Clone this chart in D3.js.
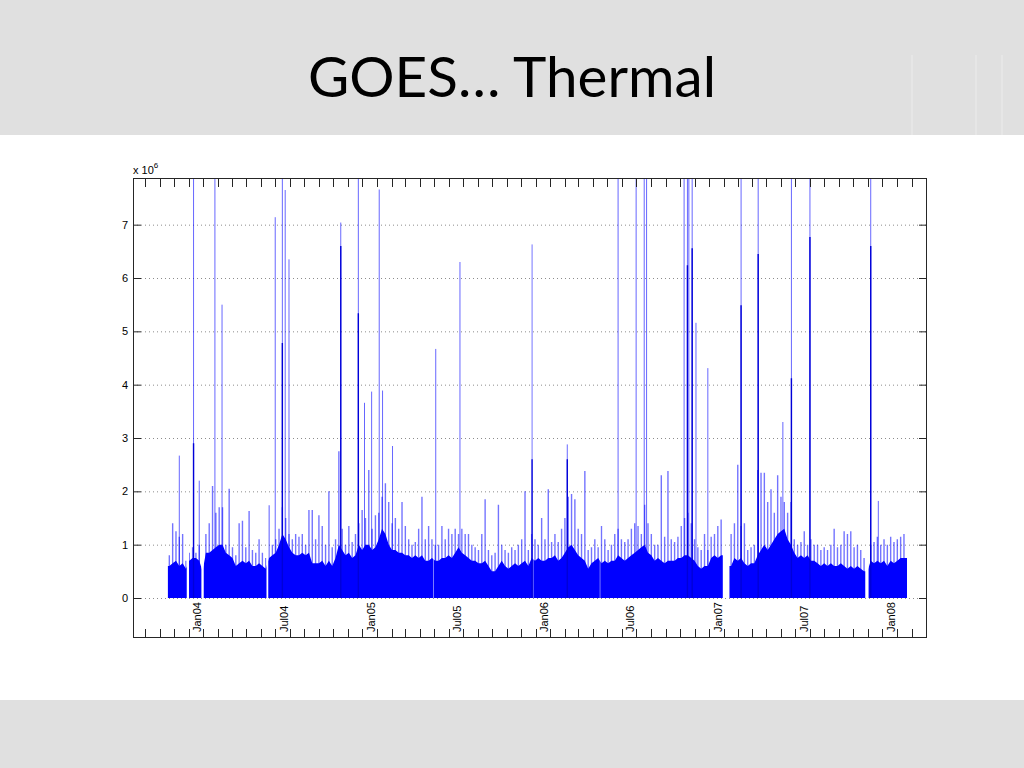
<!DOCTYPE html>
<html><head><meta charset="utf-8">
<script src="https://cdn.jsdelivr.net/npm/d3@7"></script>
<style>body{margin:0;background:#fff}svg{display:block}</style>
</head><body><svg id="c" width="1024" height="768"></svg>
<script>
// ---------- data (values in units of 10^6) ----------
const binStart = "2003-10-18";   // first weekly bin
const binDays = 7;
const denseLevel = [
0.6,0.65,0.7,0.6,0.65,0.55,0.7,0.75,0.75,0.7,
0.5,0.85,0.85,0.9,0.95,1.0,1.0,0.85,0.8,0.75,
0.6,0.65,0.7,0.65,0.7,0.6,0.6,0.65,0.6,0.55,
0.75,0.8,0.85,1.0,1.2,1.1,0.95,0.85,0.8,0.8,
0.85,0.8,0.85,0.65,0.65,0.65,0.7,0.6,0.7,0.6,
0.75,1.0,0.9,0.8,0.85,0.75,0.8,1.0,0.9,1.0,
1.0,0.9,0.95,1.1,1.3,1.2,1.0,0.9,0.9,0.85,
0.85,0.8,0.8,0.75,0.8,0.75,0.8,0.7,0.7,0.75,
0.7,0.7,0.75,0.75,0.8,0.75,0.85,0.95,0.85,0.8,
0.75,0.7,0.7,0.65,0.65,0.7,0.6,0.5,0.5,0.6,
0.7,0.6,0.55,0.6,0.65,0.6,0.65,0.7,0.6,0.75,
0.7,0.75,0.7,0.7,0.75,0.75,0.8,0.7,0.75,0.85,
0.95,1.0,0.9,0.8,0.75,0.7,0.55,0.65,0.7,0.75,
0.65,0.7,0.65,0.7,0.7,0.8,0.75,0.7,0.75,0.8,
0.85,0.9,0.95,1.0,0.85,0.8,0.7,0.75,0.7,0.65,
0.7,0.7,0.7,0.75,0.75,0.8,0.8,0.75,0.7,0.6,
0.55,0.6,0.6,0.75,0.8,0.75,0.8,0.8,0.6,0.6,
0.75,0.7,0.75,0.65,0.6,0.65,0.65,0.8,0.9,1.0,
0.9,1.0,1.1,1.2,1.25,1.3,1.1,1.0,0.85,0.75,
0.8,0.75,0.8,0.7,0.7,0.65,0.6,0.65,0.6,0.65,
0.6,0.6,0.65,0.6,0.55,0.6,0.55,0.6,0.55,0.5,
0.5,0.7,0.65,0.7,0.65,0.7,0.6,0.7,0.65,0.7,
0.75,0.75];
const peakLevel = [
0.8,1.4,1.25,1.15,1.2,0.7,0.85,0.95,0.85,1.0,
0.6,1.2,1.4,2.1,1.6,1.7,1.7,1.0,2.05,0.95,
0.8,1.4,1.45,0.95,1.63,0.9,0.85,1.1,0.85,0.75,
1.74,1.0,1.1,1.3,1.7,1.5,1.2,1.1,1.2,1.15,
1.2,1.0,1.65,1.65,1.1,1.55,1.35,1.0,2.0,0.95,
1.1,2.75,1.3,1.0,1.35,1.05,1.2,1.4,1.65,1.5,
2.4,1.3,1.55,1.6,1.9,2.15,1.8,1.4,1.5,1.3,
1.8,1.35,1.1,1.0,1.05,1.3,1.9,1.1,1.35,1.1,
1.0,1.0,1.35,1.1,1.3,1.2,1.3,1.2,1.3,1.2,
1.2,1.0,0.95,0.9,1.2,1.85,0.9,0.8,0.85,1.75,
1.0,0.9,0.85,0.95,0.9,1.0,1.1,2.0,0.9,1.2,
1.1,1.0,1.5,1.1,2.04,1.05,1.2,1.05,1.3,1.5,
1.9,1.95,1.85,1.3,1.2,2.38,0.9,0.95,1.1,0.95,
1.35,1.1,0.9,1.0,1.2,1.3,1.1,1.05,1.1,1.3,
1.4,1.35,1.2,1.75,1.4,1.2,1.0,1.0,2.3,1.15,
2.38,1.1,1.05,1.15,1.35,1.5,1.6,1.4,1.1,0.95,
0.9,1.2,0.9,1.15,1.2,1.35,1.47,1.0,0.8,1.2,
1.4,2.5,1.35,1.4,0.9,0.95,1.0,2.4,2.35,2.35,
1.8,2.04,1.6,2.3,1.9,1.8,1.6,1.8,1.1,1.0,
1.05,1.25,1.0,1.1,1.0,1.0,0.9,0.95,0.9,1.0,
1.3,0.95,1.0,1.25,1.2,1.25,0.95,1.0,0.9,0.75,
0.7,1.0,1.05,1.15,1.0,1.1,1.0,1.15,1.05,1.1,
1.15,1.2];
// isolated spikes (8.0 = runs off the top of the axes)
const spikeDates = ["2003-11-11","2003-12-11","2003-12-23","2004-01-25","2004-02-09",
 "2004-05-31","2004-06-15","2004-06-21","2004-06-29","2004-10-16","2004-11-22",
 "2004-12-05","2004-12-20","2005-01-05","2005-01-12","2005-02-02","2005-05-04",
 "2005-06-24","2005-11-23","2006-02-05","2006-05-23","2006-06-30","2006-07-17",
 "2006-07-22","2006-10-09","2006-10-16","2006-10-19","2006-10-26","2006-11-03",
 "2006-11-28","2007-02-06","2007-03-14","2007-05-05","2007-05-23","2007-07-01",
 "2007-11-06","2007-11-22"];
const spikeValues = [2.67,8.0,2.2,8.0,5.5,
 7.14,8.0,7.65,6.35,7.04,8.0,
 3.66,3.87,7.66,3.89,2.85,4.67,
 6.3,6.63,2.88,8.0,8.0,8.0,
 8.0,8.0,8.0,8.0,8.0,5.16,
 4.31,8.0,8.0,3.3,8.0,8.0,
 8.0,1.82];
// dark (overlapping) part of each spike, 0 = none
const spikeCores = [0,2.9,0,0,0,
 0,4.78,0,0,6.6,5.34,
 0,0,0,0,0,0,
 0,2.6,2.6,0,0,0,
 0,0,6.24,0,6.56,0,
 0,5.49,6.45,0,4.12,6.77,
 6.6,0];
const dataStart = "2003-10-18", dataEnd = "2008-01-22";
const gapStarts = ["2003-11-27","2003-12-28","2004-05-13","2005-04-29","2005-11-25","2006-04-15","2006-12-30","2007-10-26"];
const gapEnds   = ["2003-12-02","2004-01-02","2004-05-17","2005-04-30","2005-11-26","2006-04-16","2007-01-13","2007-11-02"];
const yTicks = [0,1,2,3,4,5,6,7];
const xLabelDates = ["2004-01-01","2004-07-01","2005-01-01","2005-07-01","2006-01-01","2006-07-01","2007-01-01","2007-07-01","2008-01-01"];
const xLabels = ["Jan04","Jul04","Jan05","Jul05","Jan06","Jul06","Jan07","Jul07","Jan08"];
const title = "GOES\u2026 Thermal";

// ---------- drawing ----------
const parse = d3.timeParse("%Y-%m-%d");
const svg = d3.select("#c");
const L = 133, R = 927, T = 178, B = 638;
const x = d3.scaleTime().domain([parse("2003-08-06"), parse("2008-03-04")]).range([L, R]);
const y = d3.scaleLinear().domain([-0.75, 7.875]).range([B, T]);

// slide bands
svg.append("rect").attr("x",0).attr("y",0).attr("width",1024).attr("height",135).attr("fill","#e0e0e0");
svg.append("rect").attr("x",0).attr("y",700).attr("width",1024).attr("height",68).attr("fill","#e0e0e0");
[912, 976, 1002].forEach(px => svg.append("line").attr("x1",px).attr("x2",px).attr("y1",55).attr("y2",135).attr("stroke","#e6e6e6").attr("stroke-width",2));
const t = svg.append("text").text(title).attr("x",512).attr("y",97).attr("text-anchor","middle")
  .attr("font-family","Lato, 'Open Sans', sans-serif").attr("font-size",54).attr("fill","#000");
const tw = t.node().getComputedTextLength();
t.attr("font-size", 54 * 408 / tw);

// plot background
svg.append("rect").attr("x",L).attr("y",T).attr("width",R-L).attr("height",B-T).attr("fill","#fff");

// grid
svg.append("g").selectAll("line").data(yTicks).join("line")
  .attr("x1",L).attr("x2",R).attr("y1",d=>y(d)+0.5).attr("y2",d=>y(d)+0.5)
  .attr("stroke","#8c8c8c").attr("stroke-width",1).attr("stroke-dasharray","1,3");

// clip to data segments
const segs = [];
let s = parse(dataStart);
gapStarts.forEach((g,i)=>{ segs.push([s, parse(g)]); s = parse(gapEnds[i]); });
segs.push([s, parse(dataEnd)]);
const clip = svg.append("defs").append("clipPath").attr("id","dc");
clip.selectAll("rect").data(segs).join("rect")
  .attr("x",d=>x(d[0])).attr("width",d=>Math.max(0.5,x(d[1])-x(d[0])))
  .attr("y",T).attr("height",y(0)-T+0.5);

const g = svg.append("g").attr("clip-path","url(#dc)");
const b0 = parse(binStart);
const bins = denseLevel.map((v,i)=>({
  date: d3.timeHour.offset(d3.timeDay.offset(b0, i*binDays), 84),
  dense: v, peak: peakLevel[i]}));
const pts = [{date: parse(dataStart), dense: bins[0].dense}, ...bins,
             {date: parse(dataEnd), dense: bins[bins.length-1].dense}];
g.append("path").datum(pts)
  .attr("d", d3.area().x(d=>x(d.date)).y0(y(0)).y1(d=>y(d.dense)))
  .attr("fill","#0000ff");
g.append("g").selectAll("line").data(bins).join("line")
  .attr("x1",d=>x(d.date)).attr("x2",d=>x(d.date))
  .attr("y1",y(0)).attr("y2",d=>y(d.peak))
  .attr("stroke","#0000ff").attr("stroke-opacity",0.55).attr("stroke-width",1.4);
const spikes = spikeDates.map((d,i)=>({date: d3.timeHour.offset(parse(d),12), v: spikeValues[i], core: spikeCores[i]}));
g.append("g").selectAll("line").data(spikes).join("line")
  .attr("x1",d=>x(d.date)).attr("x2",d=>x(d.date))
  .attr("y1",y(0)).attr("y2",d=>y(d.v))
  .attr("stroke","#0000ff").attr("stroke-opacity",0.6).attr("stroke-width",1);
g.append("g").selectAll("line").data(spikes.filter(d=>d.core>0)).join("line")
  .attr("x1",d=>x(d.date)).attr("x2",d=>x(d.date))
  .attr("y1",y(0)).attr("y2",d=>y(d.core))
  .attr("stroke","#0000d8").attr("stroke-width",1.4);

// axes box and ticks
const ax = svg.append("g").attr("stroke","#262626").attr("stroke-width",1).attr("fill","none");
ax.append("rect").attr("x",L+0.5).attr("y",T+0.5).attr("width",R-L-1).attr("height",B-T-1);
const months = d3.timeMonth.range(...x.domain());
ax.selectAll("line.bt").data(months).join("line").attr("class","bt")
  .attr("x1",d=>Math.round(x(d))+0.5).attr("x2",d=>Math.round(x(d))+0.5).attr("y1",B).attr("y2",B-9);
ax.selectAll("line.tt").data(months).join("line").attr("class","tt")
  .attr("x1",d=>Math.round(x(d))+0.5).attr("x2",d=>Math.round(x(d))+0.5).attr("y1",T).attr("y2",T+9);
ax.selectAll("line.lt").data(yTicks).join("line").attr("class","lt")
  .attr("x1",L).attr("x2",L+8).attr("y1",d=>y(d)+0.5).attr("y2",d=>y(d)+0.5);
ax.selectAll("line.rt").data(yTicks).join("line").attr("class","rt")
  .attr("x1",R-8).attr("x2",R).attr("y1",d=>y(d)+0.5).attr("y2",d=>y(d)+0.5);

const font = "'Liberation Sans', Arial, sans-serif";
svg.append("g").selectAll("text").data(yTicks).join("text")
  .attr("x",L-5).attr("y",d=>y(d)+4).attr("text-anchor","end")
  .attr("font-family",font).attr("font-size",11).attr("fill","#000").text(d=>d);
svg.append("g").selectAll("text").data(xLabels).join("text")
  .attr("transform",(d,i)=>`translate(${x(parse(xLabelDates[i]))-2},${B-6}) rotate(-90)`)
  .attr("font-family",font).attr("font-size",11).attr("fill","#000").text(d=>d);
const ex = svg.append("text").attr("x",L).attr("y",T-4).attr("font-family",font).attr("font-size",11).attr("fill","#000");
ex.append("tspan").text("x 10");
ex.append("tspan").attr("dy",-6).attr("font-size",8).text("6");
</script></body></html>
